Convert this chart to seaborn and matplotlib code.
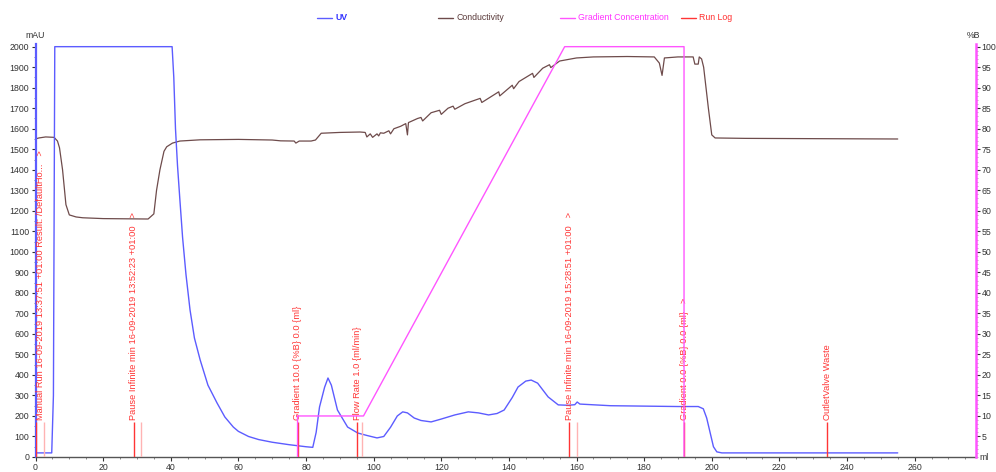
import matplotlib
matplotlib.use("Agg")
import matplotlib.pyplot as plt
import seaborn as sns
import pandas as pd
from matplotlib.lines import Line2D
from matplotlib.ticker import MultipleLocator, FixedLocator

# ---------------- data ----------------
uv_ml = [0, 4.8, 5.3, 5.7, 40.4, 40.9, 41.4, 42.0, 42.7, 43.5, 44.5, 45.7, 47, 48.7, 51,
         53.7, 56, 58.5, 60, 63, 66, 70, 75, 80, 82, 83, 84, 85.5, 86.5, 87.5, 89.3, 92.3,
         95.3, 98, 101, 103, 105, 107, 108.6, 110, 112, 114, 117, 120, 124, 128, 131, 134,
         136.5, 138.6, 141, 142.7, 145, 146.6, 148.5, 151.6, 154.6, 157.6, 159.5, 160.2,
         161, 170, 180, 190, 196, 197.5, 198.5, 199.5, 200.5, 201.5, 203, 255]
uv_mau = [20, 20, 300, 2000, 2000, 1850, 1600, 1420, 1254, 1070, 890, 717, 580, 473, 350,
          263, 195, 146, 125, 100, 85, 72, 60, 50, 47, 120, 244, 340, 385, 350, 229, 146,
          117, 105, 93, 100, 145, 200, 220, 215, 190, 178, 171, 185, 205, 220, 215, 205,
          212, 229, 290, 341, 370, 375, 360, 293, 254, 252, 255, 268,
          258, 250, 248, 246, 246, 235, 190, 120, 50, 25, 20, 20]

cond_ml = [0, 1, 3, 5.5, 6.5, 7.1, 8, 9, 10, 12, 14, 20, 33.3, 35, 35.8, 36.8, 38, 38.8,
           40.5, 42.7, 48.7, 60, 70, 72.5, 76.5, 77, 78, 81.5, 82.8, 84.5, 90, 96, 97.5,
           98, 99, 99.7, 101, 101.5, 102, 103, 104.5, 105, 106, 108, 109.5, 110, 110.3,
           113, 114, 114.5, 117, 119.5, 120, 122, 123.5, 124, 127, 131.5, 132, 137, 137.3,
           141, 141.4, 143, 147, 147.4, 150, 152, 152.4, 155, 160, 165, 175, 183, 184.5,
           185.3, 186, 190, 194.5, 195, 196, 196.3, 197, 197.6, 199, 200, 201, 210, 255]
cond_val = [1550, 1555, 1560, 1558, 1540, 1507, 1400, 1230, 1180, 1170, 1166, 1162, 1160,
            1185, 1300, 1400, 1490, 1512, 1530, 1540, 1546, 1548, 1545, 1541, 1540, 1530,
            1540, 1540, 1545, 1578, 1582, 1584, 1582, 1560, 1575, 1558, 1575, 1565, 1580,
            1578, 1590, 1575, 1600, 1612, 1625, 1570, 1630, 1650, 1655, 1638, 1678, 1690,
            1670, 1700, 1710, 1695, 1722, 1748, 1728, 1780, 1760, 1812, 1795, 1830, 1870,
            1850, 1895, 1912, 1898, 1930, 1945, 1950, 1952, 1950, 1920, 1860, 1945,
            1950, 1950, 1915, 1915, 1950, 1940, 1900, 1700, 1570, 1555, 1553, 1550]

grad_ml = [77.5, 77.5, 97.0, 156.5, 191.8, 191.8]
grad_pct = [0, 10, 10, 100, 100, 0]

log_ml = [0, 29.0, 77.5, 95.2, 157.9, 191.8, 234.2]
log_text = ["Manual Run 16-09-2019 13:37:51 +01:00 Result: /DefaultHo...",
            "Pause Infinite min 16-09-2019 13:52:23 +01:00",
            "Gradient 10.0 {%B} 0.0 {ml}",
            "Flow Rate 1.0 {ml/min}",
            "Pause Infinite min 16-09-2019 15:28:51 +01:00",
            "Gradient 0.0 {%B} 0.0 {ml}",
            "OutletValve Waste"]
log_more = [True, True, False, False, True, True, False]
log_end_ml = [2.5, 31.3, 96.6, 160.2]

legend_names = ["UV", "Conductivity", "Gradient Concentration", "Run Log"]

# ---------------- style ----------------
sns.set_theme(style="white")
plt.rcParams['font.family'] = ['Liberation Sans', 'DejaVu Sans']

C_UV = "#5c5cff"
C_COND = "#6e4b4b"
C_GRAD = "#ff55ff"
C_LOG = "#ff3535"
C_LOG_FAINT = "#ffb3b3"
FS = 6.3
FS_LOG = 6.7

fig = plt.figure(figsize=(9.96, 4.72), dpi=100)
ax = fig.add_axes([35.5 / 996, 1 - 457 / 472, 940 / 996, 413 / 472])
ax.set_facecolor("white")

# UV and conductivity on the mAU axis
sns.lineplot(x=cond_ml, y=cond_val, ax=ax, sort=False, estimator=None,
             color=C_COND, linewidth=0.9)
sns.lineplot(x=uv_ml, y=uv_mau, ax=ax, sort=False, estimator=None,
             color=C_UV, linewidth=1.0)

# Run log markers
ax.vlines(log_end_ml, 0, 170, color=C_LOG_FAINT, linewidth=1.0, zorder=3)
ax.vlines(log_ml, 0, 170, color=C_LOG, linewidth=1.0, zorder=3)
for xm, txt, more in zip(log_ml, log_text, log_more):
    label = txt + ("   >" if more else "")
    ax.text(xm + (1.4 if xm == 0 else 0), 180, label, rotation=90, ha="center",
            va="bottom", color=C_LOG, fontsize=FS_LOG, zorder=4)

ax.set_xlim(0, 278)
ax.set_ylim(0, 2013)
ax.xaxis.set_major_locator(FixedLocator(list(range(0, 261, 20))))
ax.xaxis.set_minor_locator(MultipleLocator(5))
ax.yaxis.set_major_locator(FixedLocator(list(range(0, 2001, 100))))
ax.yaxis.set_minor_locator(MultipleLocator(50))
ax.tick_params(axis="both", which="major", labelsize=FS, length=3, width=0.8,
               pad=1.5, colors="#333333", direction="out", left=True, bottom=True)
ax.tick_params(axis="both", which="minor", length=1.5, width=0.6, colors="#777777",
               left=True, bottom=True)
ax.set_xlabel("")
ax.set_ylabel("")
for s in ["top", "right"]:
    ax.spines[s].set_visible(False)
ax.spines["left"].set_color(C_UV)
ax.spines["left"].set_linewidth(1.6)
ax.spines["bottom"].set_color("#555555")
ax.spines["bottom"].set_linewidth(1.0)

# Gradient on the %B axis
ax2 = ax.twinx()
sns.lineplot(x=grad_ml, y=grad_pct, ax=ax2, sort=False, estimator=None,
             color=C_GRAD, linewidth=1.0)
ax2.set_ylim(0, 100.65)
ax2.set_xlim(0, 278)
ax2.yaxis.set_major_locator(FixedLocator(list(range(5, 101, 5))))
ax2.yaxis.set_minor_locator(MultipleLocator(1))
ax2.tick_params(axis="y", which="major", labelsize=FS, length=3, width=0.8, pad=1.5,
                colors="#333333", right=True, direction="out")
ax2.tick_params(axis="y", which="minor", length=1.2, width=0.5, colors="#999999",
                right=True)
ax2.set_ylabel("")
for s in ["top", "left", "bottom"]:
    ax2.spines[s].set_visible(False)
ax2.spines["right"].set_color(C_GRAD)
ax2.spines["right"].set_linewidth(1.8)
ax2.grid(False)
ax.grid(False)

# axis unit labels
fig.text(35.5 / 996, 1 - 36 / 472, "mAU", ha="center", va="center", fontsize=FS, color="#333333")
fig.text(973 / 996, 1 - 36 / 472, "%B", ha="center", va="center", fontsize=FS, color="#333333")
fig.text(979 / 996, 1 - 457 / 472, "ml", ha="left", va="center", fontsize=FS, color="#333333")

# legend row across the top
leg_colors = [C_UV, C_COND, C_GRAD, C_LOG]
leg_text_colors = ["#3030ff", "#5a3a3a", "#ff33ff", "#ff3030"]
for i, (name, lc, tc) in enumerate(zip(legend_names, leg_colors, leg_text_colors)):
    x0 = (317 + 121.3 * i) / 996
    y0 = 1 - 17.5 / 472
    fig.add_artist(Line2D([x0, x0 + 15 / 996], [y0, y0], color=lc, linewidth=1.0,
                          transform=fig.transFigure))
    fig.text(x0 + 18 / 996, y0, name, ha="left", va="center", fontsize=FS,
             color=tc, fontweight="bold" if i == 0 else "normal")

fig.savefig("out.png", dpi=100, facecolor="white")
